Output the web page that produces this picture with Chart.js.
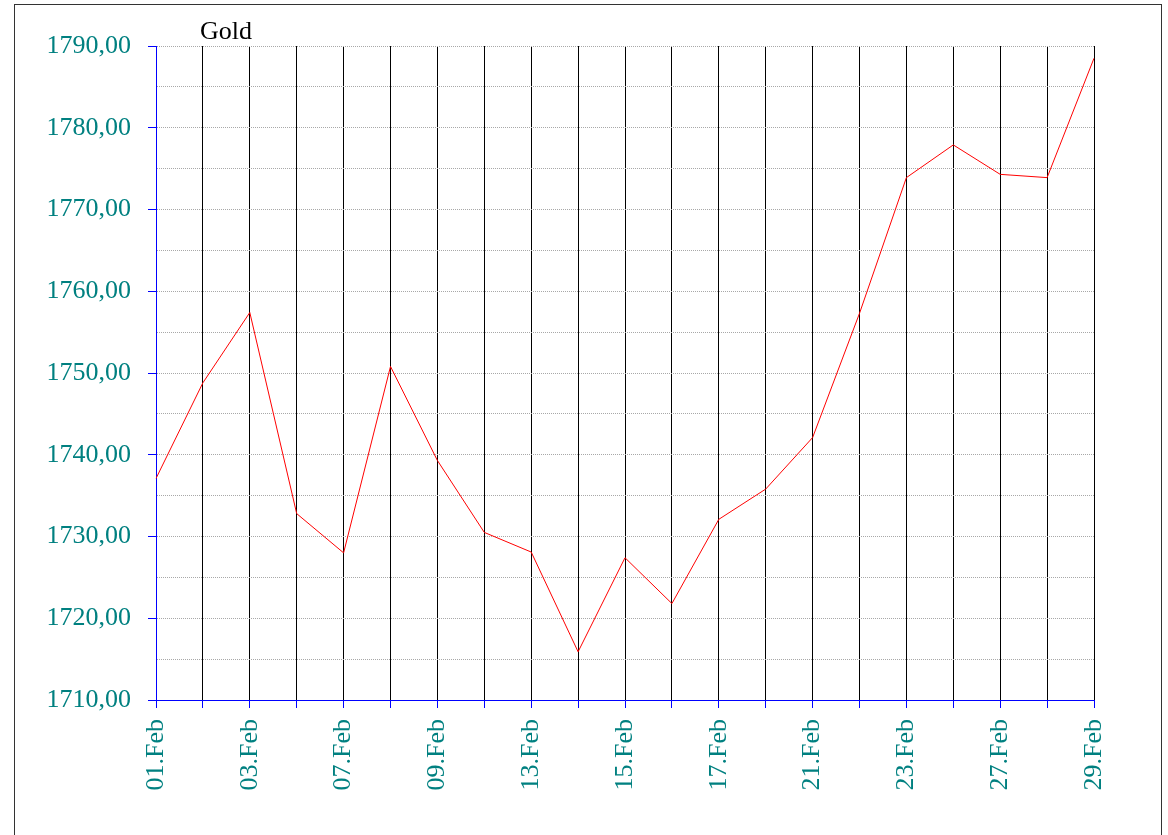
<!DOCTYPE html>
<html>
<head>
<meta charset="utf-8">
<script src="https://cdn.jsdelivr.net/npm/chart.js@4"></script>
<style>
html,body{margin:0;padding:0;background:#fff;}
#wrap{position:relative;width:1168px;height:835px;}
</style>
</head>
<body>
<div id="wrap"><canvas id="c" width="1168" height="835"></canvas></div>
<script>
const title = "Gold";
const categories = ["01.Feb","02.Feb","03.Feb","06.Feb","07.Feb","08.Feb","09.Feb","10.Feb","13.Feb","14.Feb","15.Feb","16.Feb","17.Feb","20.Feb","21.Feb","22.Feb","23.Feb","24.Feb","27.Feb","28.Feb","29.Feb"];
const goldValues = [1737.1,1748.8,1757.4,1732.8,1728.0,1750.8,1739.3,1730.5,1728.1,1715.9,1727.4,1721.8,1732.1,1735.8,1742.1,1757.3,1773.9,1777.9,1774.3,1773.9,1788.5];
const yMin = 1710, yMax = 1790, yStep = 5, yLabelStep = 10;

const TEAL = "#008080";
const BLUE = "#0000ff";
const FONT = "'Liberation Serif','Times New Roman',serif";

const framePlugin = {
  id: "frame",
  afterDraw(chart) {
    const ctx = chart.ctx;
    ctx.save();
    ctx.strokeStyle = "#333";
    ctx.lineWidth = 1;
    ctx.strokeRect(14.5, 4.5, 1147, 900);
    ctx.fillStyle = "#000";
    ctx.font = "26px " + FONT;
    ctx.textBaseline = "alphabetic";
    ctx.textAlign = "left";
    ctx.fillText(title, 200, 39);
    ctx.restore();
  }
};

new Chart(document.getElementById("c"), {
  type: "line",
  data: {
    labels: categories,
    datasets: [{
      label: title,
      data: goldValues,
      borderColor: "#ff0000",
      borderWidth: 1,
      pointRadius: 0,
      tension: 0,
      fill: false
    }]
  },
  options: {
    responsive: false,
    animation: false,
    devicePixelRatio: 1,
    layout: { padding: { left: 0, right: 74, top: 46, bottom: 0 } },
    plugins: { legend: { display: false }, title: { display: false }, tooltip: { enabled: false } },
    scales: {
      x: {
        offset: false,
        afterFit(s) { s.height = 135; },
        grid: {
          color: "#000",
          lineWidth: 1,
          drawTicks: true,
          tickLength: 8,
          tickColor: BLUE
        },
        border: { display: true, color: BLUE, width: 1 },
        ticks: {
          autoSkip: false,
          minRotation: 90,
          maxRotation: 90,
          padding: 11,
          color: TEAL,
          font: { family: FONT, size: 26 },
          callback(v, i) { return i % 2 === 0 ? categories[i] : ""; }
        }
      },
      y: {
        min: yMin,
        max: yMax,
        afterFit(s) { s.width = 156; },
        grid: {
          color: "#a8a8a8",
          lineWidth: 1,
          tickLength: 8,
          tickColor(ctx) { return ctx.tick && ctx.tick.value % yLabelStep === 0 ? BLUE : "rgba(0,0,0,0)"; },
          tickBorderDash: []
        },
        border: { display: true, color: BLUE, width: 1, dash: [1, 1] },
        ticks: {
          stepSize: yStep,
          padding: 17,
          color: TEAL,
          font: { family: FONT, size: 26 },
          callback(v) {
            if (v % yLabelStep !== 0) return "";
            return v.toFixed(2).replace(".", ",");
          }
        }
      }
    }
  },
  plugins: [framePlugin]
});
</script>
</body>
</html>
